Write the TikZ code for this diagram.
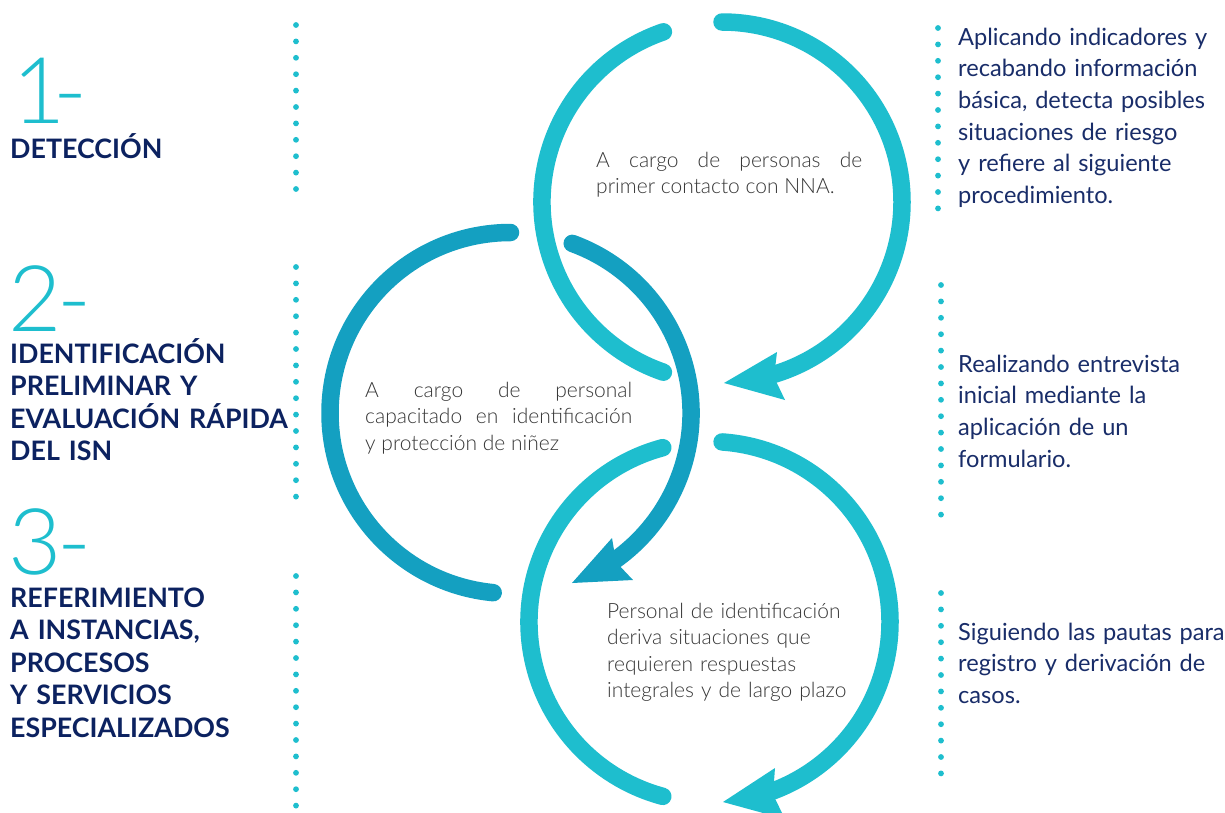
\documentclass[tikz,border=0pt]{standalone}
\usepackage{fontspec}
\setmainfont{Lato}
\newfontfamily\lightfont{Lato Light}
\definecolor{cyanA}{RGB}{30,190,206}
\definecolor{tealB}{RGB}{20,160,193}
\definecolor{navy}{RGB}{12,34,96}
\definecolor{navytext}{RGB}{25,45,105}
\definecolor{greytext}{RGB}{55,55,55}
\tikzset{
  ring/.style={line width=17.5pt, line cap=round},
  dotline/.style={cyanA, line width=5.8pt, line cap=round, dash pattern=on 0pt off 16.4pt},
  numtext/.style={anchor=base west, inner sep=0pt, text=cyanA, font=\lightfont\fontsize{92}{92}\selectfont},
  headtext/.style={anchor=base west, inner sep=0pt, text width=300pt, align=left, text=navy, font=\bfseries\fontsize{26.8}{32.5}\selectfont},
  sidetext/.style={anchor=base west, inner sep=0pt, text width=280pt, align=left, text=navytext, font=\fontsize{23.6}{31.7}\selectfont},
  ringtext/.style={anchor=base west, inner sep=0pt, text=greytext, font=\lightfont\fontsize{21}{26.5}\selectfont},
}
\begin{document}
\begin{tikzpicture}[x=1pt,y=1pt]
\useasboundingbox (0,0) rectangle (1225,-812);
\clip (0,0) rectangle (1225,-812);
\fill[white] (0,0) rectangle (1225,-812);

% dotted separators
\draw[dotline] (296,-25) -- (296,-190);
\draw[dotline] (296,-267) -- (296,-504);
\draw[dotline] (296,-576) -- (296,-815);
\draw[dotline] (938,-28) -- (938,-210);
\draw[dotline] (941,-285) -- (941,-526);
\draw[dotline] (941,-593) -- (941,-775);

% ring 1 (top)
\draw[ring, cyanA] (722,-202) ++(109:180) arc[start angle=109, end angle=251, radius=180];
\draw[ring, cyanA] (722,-202) ++(90:180) arc[start angle=90, end angle=-73, radius=180];
\fill[cyanA] (724,-383) -- (777,-352) -- (774,-377) -- (785,-400) -- cycle;

% ring 2 (middle)
\draw[ring, tealB] (510.5,-413) ++(90:180.5) arc[start angle=90, end angle=264.5, radius=180.5];
\draw[ring, tealB] (510.5,-413) ++(70:180.5) arc[start angle=70, end angle=-54.5, radius=180.5];
\fill[tealB] (572,-583) -- (612,-538) -- (616,-562) -- (633,-580) -- cycle;

% ring 3 (bottom)
\draw[ring, cyanA] (709.5,-622) ++(105:180.5) arc[start angle=105, end angle=255, radius=180.5];
\draw[ring, cyanA] (709.5,-622) ++(86:180.5) arc[start angle=86, end angle=-69.5, radius=180.5];
\fill[cyanA] (723,-802) -- (775,-768) -- (773,-794.5) -- (785,-819) -- cycle;

% numbers
\node[numtext] (n1) at (12,-123) {1\kern-12pt-};
\node[numtext] (n2) at (8,-331) {2\kern-4pt-};
\node[numtext] (n3) at (8,-574) {3\kern-4pt-};

% headings
\node[headtext] (h1) at (10,-158) {DETECCIÓN};
\node[headtext] (h2) at (10,-363) {IDENTIFICACIÓN\\PRELIMINAR Y\\EVALUACIÓN RÁPIDA\\DEL ISN};
\node[headtext] (h3) at (10,-607) {REFERIMIENTO\\A INSTANCIAS,\\PROCESOS\\Y SERVICIOS\\ESPECIALIZADOS};

% ring texts
\node[ringtext, text width=266pt, align=justify] (t1) at (596,-167) {A cargo de personas de\linebreak primer contacto con NNA.};
\node[ringtext, text width=267pt, align=justify] (t2) at (365,-397) {A cargo de personal\linebreak capacitado en identificación\linebreak y protección de niñez};
\node[ringtext, text width=260pt, align=left] (t3) at (607,-618) {Personal de identificación\\deriva situaciones que\\requieren respuestas\\integrales y de largo plazo};

% side texts
\node[sidetext] (s1) at (958,-45) {Aplicando indicadores y\\recabando información\\básica, detecta posibles\\situaciones de riesgo\\y refiere al siguiente\\procedimiento.};
\node[sidetext] (s2) at (958,-372) {Realizando entrevista\\inicial mediante la\\aplicación de un\\formulario.};
\node[sidetext] (s3) at (958,-640) {Siguiendo las pautas para\\registro y derivación de\\casos.};
\end{tikzpicture}
\end{document}
